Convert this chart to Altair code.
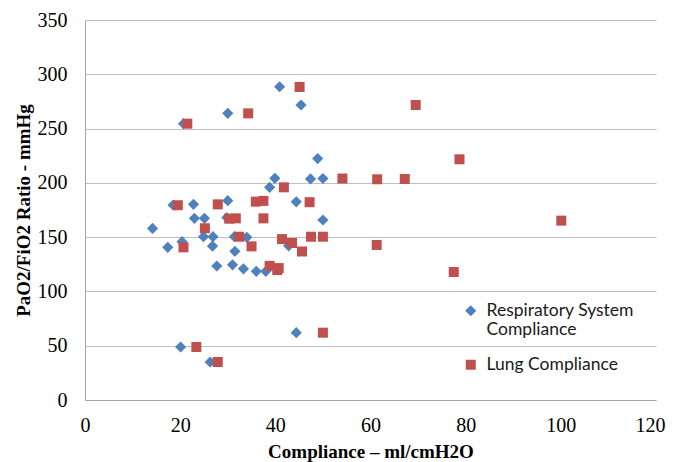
import altair as alt
import pandas as pd

# Respiratory System Compliance (blue diamonds)
resp_x = [14.2, 17.4, 18.5, 20.4, 22.8, 23.0, 25.1, 24.9, 26.9, 26.8, 27.7, 30.0,
          29.8, 31.4, 31.5, 31.0, 34.0, 33.3, 36.0, 38.0, 38.8, 39.9, 44.4, 42.8,
          47.4, 48.9, 50.0, 50.0, 20.7, 30.0, 40.9, 45.4, 20.1, 26.3, 44.4]
resp_y = [158, 140.6, 179.6, 145.8, 180.2, 167.3, 167.3, 150.4, 150.4, 141.8, 123.4, 183.6,
          168, 150.4, 137.0, 124.5, 149.8, 120.8, 118.5, 118.5, 195.9, 204.2, 182.5, 142.0,
          203.6, 222.4, 204.0, 165.8, 254.5, 264, 288.5, 271.7, 48.8, 35, 62]

# Lung Compliance (red squares)
lung_x = [19.5, 20.7, 25.2, 27.9, 30.3, 31.7, 32.4, 35.0, 35.9, 37.5, 37.5, 38.8,
          40.7, 40.4, 41.4, 43.5, 45.6, 41.8, 47.2, 47.5, 50.0, 54.1, 61.4, 67.2,
          78.7, 100.1, 61.3, 77.5, 21.5, 34.3, 45.1, 69.5, 23.4, 27.9, 50.0]
lung_y = [179.4, 140.6, 158.2, 180.2, 167, 167.3, 150.4, 141.5, 182.7, 183.4, 167.3, 123.6,
          121.5, 119.7, 148.2, 144.6, 136.8, 195.9, 182.2, 150.4, 150.4, 204.0, 203.3, 203.6,
          221.7, 165.2, 142.8, 117.9, 254.5, 264, 288.3, 271.7, 48.8, 35, 62]

series_names = ["Respiratory System Compliance", "Lung Compliance"]
series_colors = ["#4F81BD", "#C0504D"]
series_shapes = ["diamond", "square"]
series_sizes = [125, 100]

x_ticks = [0, 20, 40, 60, 80, 100, 120]
y_ticks = [0, 50, 100, 150, 200, 250, 300, 350]

df = pd.concat([
    pd.DataFrame({"x": resp_x, "y": resp_y, "series": series_names[0], "order": 0}),
    pd.DataFrame({"x": lung_x, "y": lung_y, "series": series_names[1], "order": 1}),
], ignore_index=True)

grid_color = "#BFBFBF"

chart = alt.Chart(df).mark_point(filled=True, opacity=1, strokeWidth=0).encode(
    x=alt.X("x:Q",
            scale=alt.Scale(domain=[0, 120], nice=False, zero=True),
            axis=alt.Axis(values=x_ticks, title="Compliance – ml/cmH2O", grid=False,
                          ticks=False, domainColor="#A6A6A6", domainWidth=1,
                          labelFont="Liberation Serif", labelFontSize=20, labelColor="black",
                          labelPadding=15, labelFlush=False,
                          labelOffset={"condition": {"test": "datum.value == 120", "value": -6}, "value": 0},
                          titleFont="Liberation Serif", titleFontSize=19, titleFontWeight="bold",
                          titleColor="black", titlePadding=7)),
    y=alt.Y("y:Q",
            scale=alt.Scale(domain=[0, 350], nice=False),
            axis=alt.Axis(values=y_ticks, title="PaO2/FiO2 Ratio - mmHg", grid=True,
                          gridColor=grid_color, gridWidth=1,
                          ticks=False, domainColor="#A6A6A6", domainWidth=1,
                          labelFont="Liberation Serif", labelFontSize=20, labelColor="black",
                          labelPadding=18,
                          titleFont="Liberation Serif", titleFontSize=19, titleFontWeight="bold",
                          titleColor="black", titlePadding=4)),
    color=alt.Color("series:N",
                    scale=alt.Scale(domain=series_names, range=series_colors),
                    legend=alt.Legend(title=None, orient="none", legendX=377, legendY=282,
                                      labelFont="Lato", labelFontSize=17.5, labelColor="#1a1a1a",
                                      labelLimit=400, labelOffset=7, symbolSize=100,
                                      symbolStrokeWidth=0, rowPadding=16, padding=0,
                                      labelExpr="datum.label == 'Respiratory System Compliance' ? ['Respiratory System', 'Compliance'] : datum.label")),
    shape=alt.Shape("series:N",
                    scale=alt.Scale(domain=series_names, range=series_shapes)),
    size=alt.Size("series:N",
                  scale=alt.Scale(domain=series_names, range=series_sizes), legend=None),
    order=alt.Order("order:Q"),
).properties(
    width=571, height=380,
    autosize=alt.AutoSizeParams(type="none"),
    padding={"left": 77, "top": 12, "right": 11, "bottom": 62},
).configure_view(stroke=None).configure_legend(symbolStrokeWidth=0)

chart.save("out.html", embed_options={"renderer": "svg", "actions": False})
